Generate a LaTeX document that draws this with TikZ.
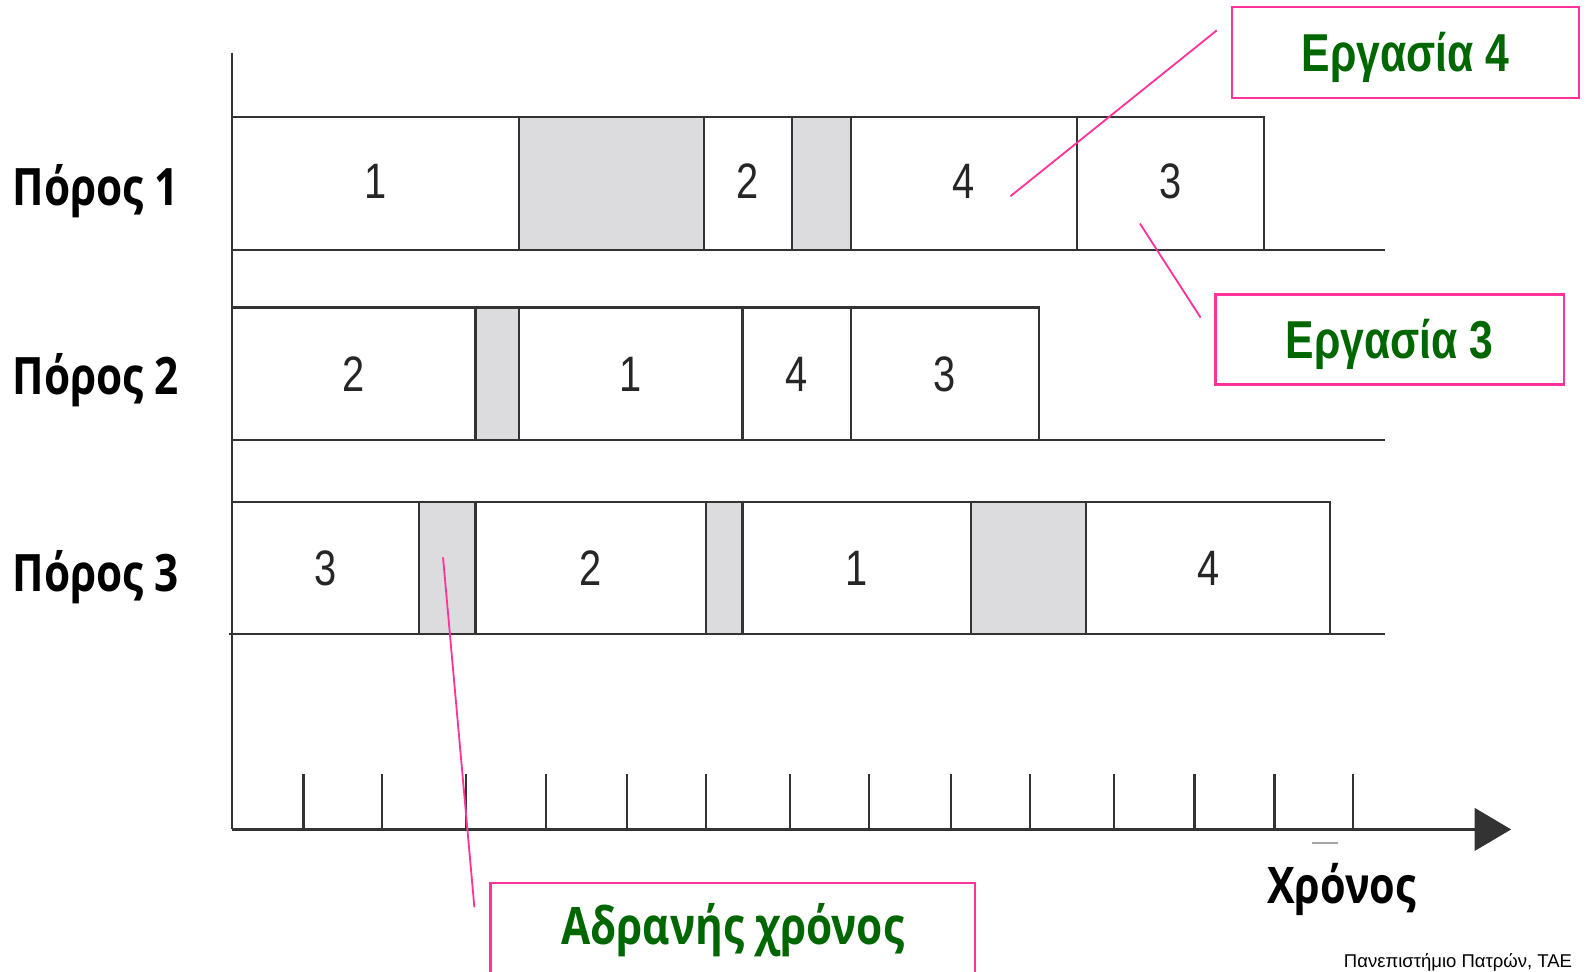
\documentclass[tikz,border=0pt]{standalone}
\usepackage{fontspec}
\setmainfont{Liberation Sans}
\newfontfamily\tasknumfont[FakeStretch=0.8]{Liberation Sans}
\newfontfamily\taskfont[FakeStretch=0.8]{Liberation Sans}
\newfontfamily\labelfont[FakeStretch=0.82]{Open Sans}
\usetikzlibrary{arrows.meta}

\definecolor{idlegray}{HTML}{DCDCDE}
\definecolor{calloutpink}{HTML}{FF3399}
\definecolor{taskgreen}{HTML}{006600}

\tikzset{
    slot/.style={draw=black!80, line width=0.022cm},
    idle/.style={slot, fill=idlegray},
    tasknum/.style={font=\tasknumfont\fontsize{14}{14}\selectfont, text=black!85},
    resname/.style={font=\labelfont\bfseries\fontsize{14.5}{14.5}\selectfont, anchor=base west, inner sep=0pt},
    callout/.style={draw=calloutpink, line width=0.025cm, text=taskgreen,
        font=\taskfont\bfseries\fontsize{15}{15}\selectfont, text height=0.38cm, text depth=0cm},
    pointer/.style={calloutpink, line width=0.018cm}
}

\begin{document}
\begin{tikzpicture}[x=0.01cm, y=-0.01cm]
        \useasboundingbox (0,0) rectangle (1568,960);

        % time axis
        \draw [slot] (229,52) -- (229,820);
        \draw [slot, -{Triangle[length=0.36cm, width=0.42cm]}] (229,820) -- (1494,820);
        \foreach \t in {300,378,461,540,620,698,781,859,940,1018,1101,1181,1260,1338}
            \draw [slot] (\t,765) -- (\t,820);
        \draw [black!35, line width=0.02cm] (1297,833) -- (1323,833);
        \node [font=\labelfont\bfseries\fontsize{14.2}{14.2}\selectfont, anchor=base west, inner sep=0pt] (time) at (1252,893) {Χρόνος};

        % Πόρος 1
        \begin{scope}[shift={(0,116)}]
            \node [resname] (r1) at (12,87) {Πόρος 1};
            \foreach \a/\b/\n in {229/513/1, 696/783/2, 841/1065/4, 1065/1250/3} {
                \draw [slot] (\a,0) rectangle (\b,131);
                \node [tasknum] at ({(\a+\b)/2},63) {\n};
            }
            \foreach \a/\b in {513/696, 783/841}
                \draw [idle] (\a,0) rectangle (\b,131);
            \draw [slot] (229,131) -- (1369,131);
        \end{scope}

        % Πόρος 2
        \begin{scope}[shift={(0,304)}]
            \node [resname] (r2) at (12,86) {Πόρος 2};
            \foreach \a/\b/\n in {229/470/2, 513/734/1, 734/841/4, 841/1027/3} {
                \draw [slot] (\a,0) rectangle (\b,131);
                \node [tasknum] at ({(\a+\b)/2},66) {\n};
            }
            \draw [idle] (470,0) rectangle (513,131);
            \draw [slot] (229,131) -- (1369,131);
        \end{scope}

        % Πόρος 3
        \begin{scope}[shift={(0,496)}]
            \node [resname] (r3) at (12,89) {Πόρος 3};
            \foreach \a/\b/\n in {229/414/3, 470/698/2, 734/960/1, 1074/1315/4} {
                \draw [slot] (\a,0) rectangle (\b,131);
                \node [tasknum] at ({(\a+\b)/2},66) {\n};
            }
            \foreach \a/\b in {414/470, 698/734, 960/1074}
                \draw [idle] (\a,0) rectangle (\b,131);
            \draw [slot] (226,131) -- (1369,131);
        \end{scope}

        % callouts
        \node [callout, minimum width=3.43cm, minimum height=0.9cm] (task4) at (1389.5,52) {Εργασία 4};
        \node [callout, minimum width=3.44cm, minimum height=0.89cm] (task3) at (1374,335.5) {Εργασία 3};
        \node [callout, draw=none, font=\labelfont\bfseries\fontsize{14.5}{14.5}\selectfont] (idletime) at (724.5,915) {Αδρανής χρόνος};
        \draw [calloutpink, line width=0.025cm] (485,1010) -- (485,873) -- (964,873) -- (964,1010);

        \coordinate (task4a) at (1203,30);
        \coordinate (task4b) at (999,194);
        \coordinate (task3a) at (1127,221);
        \coordinate (task3b) at (1187,314);
        \coordinate (idlea) at (438,551);
        \coordinate (idleb) at (469,897);
        \draw [pointer] (task4a) -- (task4b);
        \draw [pointer] (task3a) -- (task3b);
        \draw [pointer] (idlea) -- (idleb);

        \node [anchor=base west, inner sep=0pt, font=\fontsize{5.2}{5.2}\selectfont] (source) at (1328,957) {Πανεπιστήμιο Πατρών, ΤΑΕ};
    \end{tikzpicture}
\end{document}
